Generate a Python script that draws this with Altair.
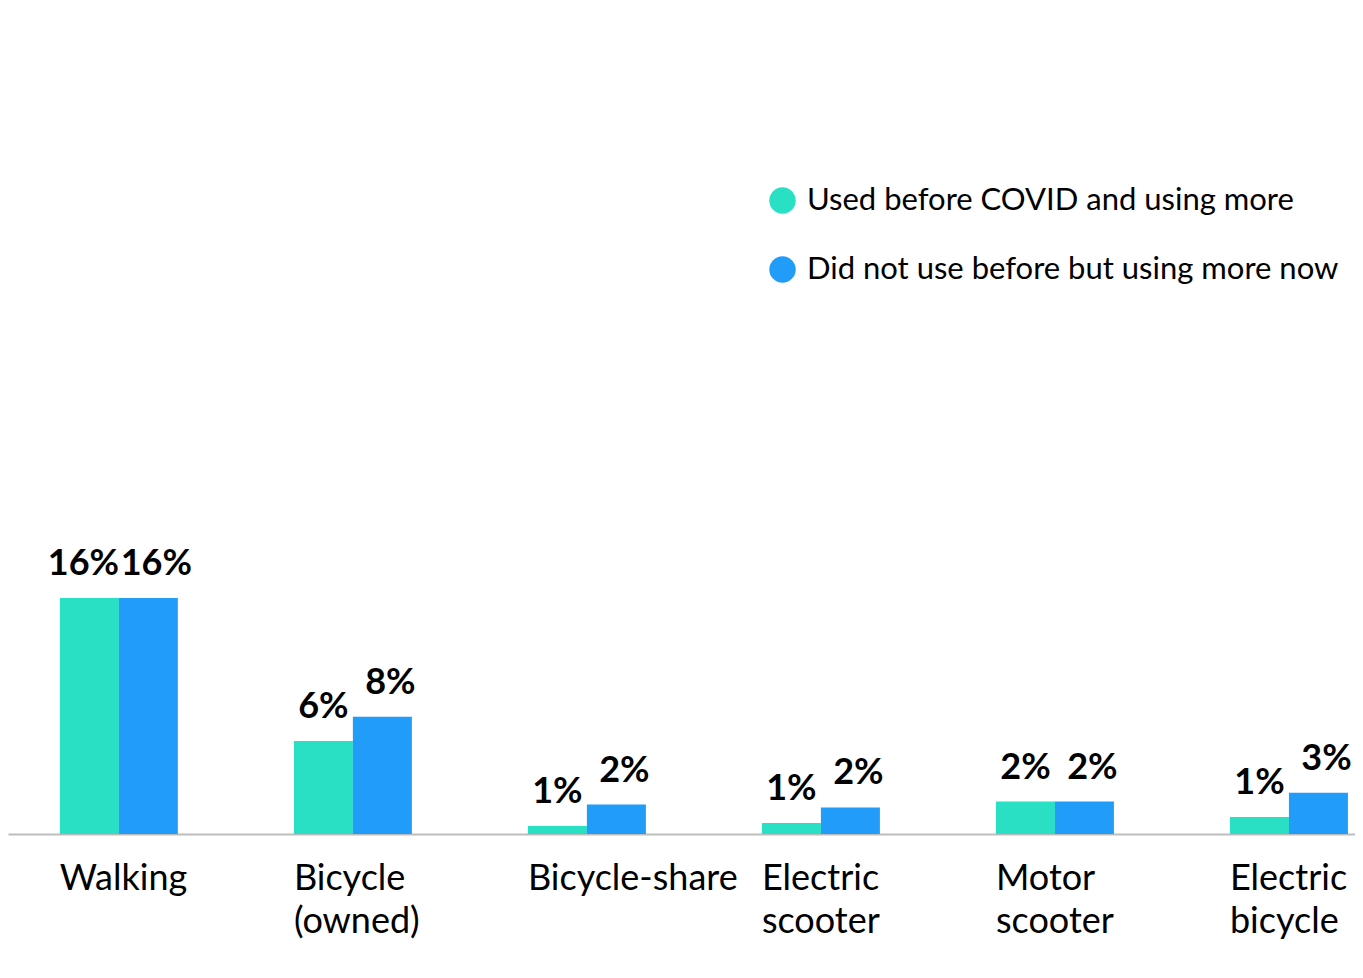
import altair as alt
import pandas as pd

categories = ["Walking", "Bicycle\n(owned)", "Bicycle-share", "Electric\nscooter", "Motor\nscooter", "Electric\nbicycle"]
series = ["Used before COVID and using more", "Did not use before but using more now"]
used_before = [16.0, 6.3, 0.55, 0.75, 2.2, 1.15]
new_users = [16.0, 7.95, 2.0, 1.8, 2.2, 2.8]
colors = ["#29E0C4", "#219DF9"]

rows = []
for i, c in enumerate(categories):
    rows.append({"cat": c, "series": series[0], "value": used_before[i]})
    rows.append({"cat": c, "series": series[1], "value": new_users[i]})
df = pd.DataFrame(rows)

FONT = "Lato"

x = alt.X(
    "cat:N",
    sort=categories,
    scale=alt.Scale(paddingInner=0.496, paddingOuter=0.126, align=0.88),
    axis=alt.Axis(
        title=None,
        labelExpr="split(datum.label, '\\n')",
        labelAlign="left",
        labelBaseline="top",
        labelOffset=-59,
        labelPadding=27,
        labelFont=FONT,
        labelFontSize=36,
        labelLineHeight=43,
        labelLimit=400,
        labelColor="#000000",
        labelAngle=0,
        ticks=False,
        domainColor="#BDBDBD",
        domainWidth=2,
        grid=False,
    ),
)
y = alt.Y("value:Q", scale=alt.Scale(domain=[0, 56], nice=False), axis=None)
xo = alt.XOffset("series:N", sort=series)
color = alt.Color(
    "series:N",
    sort=series,
    scale=alt.Scale(domain=series, range=colors),
    legend=alt.Legend(
        title=None,
        orient="none",
        legendX=759,
        legendY=177,
        symbolType="circle",
        symbolSize=700,
        symbolStrokeWidth=0,
        labelFont=FONT,
        labelFontSize=31,
        labelColor="#000000",
        labelOffset=9,
        rowPadding=37,
        labelLimit=700,
    ),
)

base = alt.Chart(df)
bars = base.mark_bar(size=59).encode(x=x, xOffset=xo, y=y, color=color)

txt_common = dict(
    font=FONT, fontSize=36, fontWeight="bold", baseline="alphabetic", align="center", dy=-23, color="#000000"
)
calc = "format(datum.value, '.0f') + '%'"
lab1a = (
    base.transform_filter((alt.datum.series == series[0]) & (alt.datum.cat == categories[0]))
    .transform_calculate(lbl=calc)
    .mark_text(dx=-6, **txt_common)
    .encode(x=x, xOffset=xo, y=y, text="lbl:N")
)
lab1b = (
    base.transform_filter((alt.datum.series == series[0]) & (alt.datum.cat != categories[0]))
    .transform_calculate(lbl=calc)
    .mark_text(**txt_common)
    .encode(x=x, xOffset=xo, y=y, text="lbl:N")
)
lab2 = (
    base.transform_filter(alt.datum.series == series[1])
    .transform_calculate(lbl=calc)
    .mark_text(dx=8, **txt_common)
    .encode(x=x, xOffset=xo, y=y, text="lbl:N")
)

chart = (
    alt.layer(bars, lab1a, lab1b, lab2)
    .resolve_scale(xOffset="shared")
    .properties(
        width=1347,
        height=826,
        padding={"left": 0, "top": 0, "right": 0, "bottom": 130},
        autosize=alt.AutoSizeParams(type="none"),
    )
    .configure_view(stroke=None)
    .configure_scale(offsetBandPaddingInner=0)
)

chart.save("out.html", embed_options={"renderer": "svg", "actions": False})
